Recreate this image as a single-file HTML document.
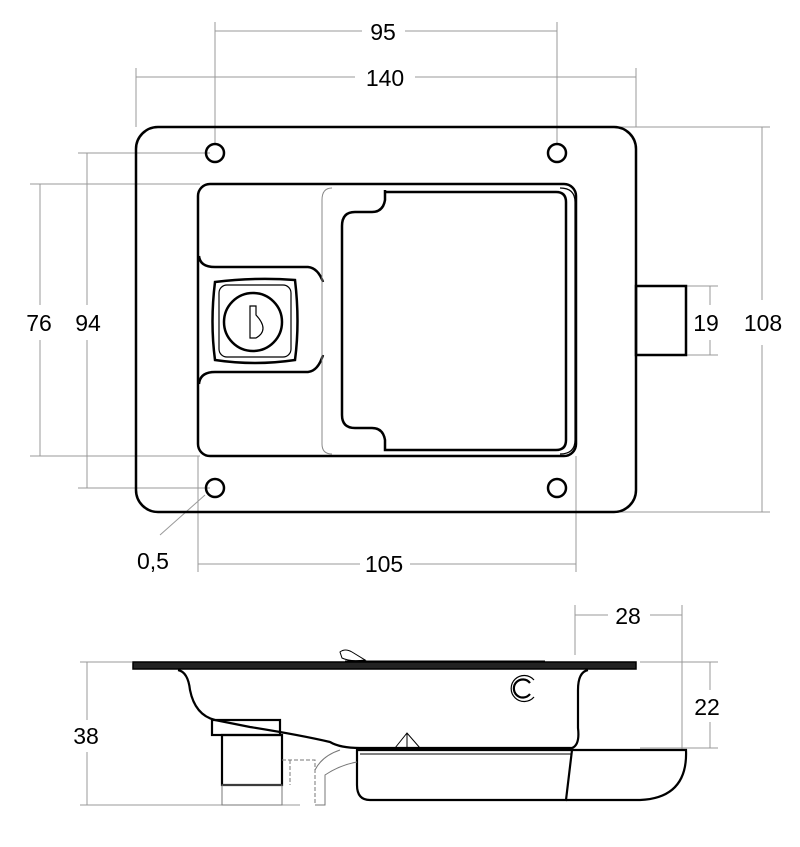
<!DOCTYPE html>
<html><head><style>html,body{margin:0;padding:0;background:#fff}svg{display:block}</style></head>
<body>
<svg width="800" height="847" viewBox="0 0 800 847" xmlns="http://www.w3.org/2000/svg" font-family="Liberation Sans, sans-serif" font-size="23">
<g stroke="#999" stroke-width="1" fill="none">
<line x1="215" y1="22" x2="215" y2="145"/><line x1="557" y1="22" x2="557" y2="145"/>
<line x1="215" y1="31" x2="362" y2="31"/><line x1="405" y1="31" x2="557" y2="31"/>
<line x1="136" y1="68" x2="136" y2="127"/><line x1="636" y1="68" x2="636" y2="127"/>
<line x1="136" y1="77" x2="355" y2="77"/><line x1="415" y1="77" x2="636" y2="77"/>
<line x1="620" y1="127" x2="770" y2="127"/><line x1="620" y1="512" x2="770" y2="512"/>
<line x1="762" y1="127" x2="762" y2="300"/><line x1="762" y1="345" x2="762" y2="512"/>
<line x1="686" y1="286" x2="718" y2="286"/><line x1="686" y1="355" x2="718" y2="355"/>
<line x1="710" y1="286" x2="710" y2="305"/><line x1="710" y1="340" x2="710" y2="355"/>
<line x1="30" y1="184" x2="200" y2="184"/><line x1="30" y1="456" x2="200" y2="456"/>
<line x1="40" y1="184" x2="40" y2="305"/><line x1="40" y1="340" x2="40" y2="456"/>
<line x1="78" y1="153" x2="210" y2="153"/><line x1="78" y1="488" x2="210" y2="488"/>
<line x1="87" y1="153" x2="87" y2="305"/><line x1="87" y1="340" x2="87" y2="488"/>
<line x1="198" y1="456" x2="198" y2="572"/><line x1="576" y1="456" x2="576" y2="572"/>
<line x1="198" y1="564" x2="360" y2="564"/><line x1="410" y1="564" x2="576" y2="564"/>
<line x1="160" y1="535" x2="205" y2="495"/>
<line x1="575" y1="605" x2="575" y2="655"/><line x1="682" y1="605" x2="682" y2="750"/>
<line x1="575" y1="615" x2="608" y2="615"/><line x1="650" y1="615" x2="682" y2="615"/>
<line x1="640" y1="662" x2="718" y2="662"/><line x1="640" y1="748" x2="718" y2="748"/>
<line x1="710" y1="662" x2="710" y2="690"/><line x1="710" y1="722" x2="710" y2="748"/>
<line x1="80" y1="662" x2="132" y2="662"/><line x1="80" y1="805" x2="300" y2="805"/>
<line x1="87" y1="662" x2="87" y2="720"/><line x1="87" y1="752" x2="87" y2="805"/>
</g>
<g fill="#000" text-anchor="middle">
<text x="383" y="40">95</text><text x="385" y="86">140</text>
<text x="39" y="331">76</text><text x="88" y="331">94</text>
<text x="706" y="331">19</text><text x="763" y="331">108</text>
<text x="153" y="569">0,5</text><text x="384" y="572">105</text>
<text x="628" y="624">28</text><text x="707" y="715">22</text><text x="86" y="744">38</text>
</g>
<g fill="none" stroke="#000" stroke-width="2.5">
<rect x="136" y="127" width="500" height="385" rx="22"/>
<rect x="198" y="184" width="378" height="272" rx="12"/>
<circle cx="215" cy="153" r="9"/><circle cx="557" cy="153" r="9"/>
<circle cx="215" cy="488" r="9"/><circle cx="557" cy="488" r="9"/>
<rect x="636" y="286" width="50" height="69"/>
<path d="M199 256 Q200 267 215 267 L308 267 Q318 268 323 282"/>
<path d="M199 384 Q200 372 215 372 L308 372 Q318 371 323 355"/>
<path d="M215 282 Q255 277 295 280 Q300 322 295 360 Q255 366 215 360 Q210 322 215 282Z"/>
<circle cx="253" cy="322" r="29"/>
<path d="M385 190 L385 200 Q383 212 372 212 L355 212 Q342 212 342 226 L342 415 Q342 428 355 428 L372 428 Q383 428 385 440 L385 450 L556 450 Q566 450 566 440 L566 202 Q566 192 556 192 L385 192"/>
</g>
<g fill="none" stroke="#000" stroke-width="1.2">
<rect x="219" y="285" width="72" height="72" rx="8"/>
<path d="M250 306 L250 338 L256 338 Q270 330 256 315 L256 306Z"/>
<path d="M560 188 Q575 188 575 202 L575 440 Q575 454 560 454"/>
</g>
<path d="M332 188 Q322 188 322 200 L322 444 Q322 454 332 454" fill="none" stroke="#888" stroke-width="1"/>
<rect x="133" y="662" width="503" height="7" fill="#222" stroke="#000" stroke-width="1.5"/>
<line x1="345" y1="661" x2="545" y2="661" stroke="#000" stroke-width="1"/>
<path d="M340 652 Q345 648 352 652 L365 660 Q350 662 342 658 Z" fill="none" stroke="#000" stroke-width="1"/>
<g fill="none" stroke="#000" stroke-width="2.2">
<path d="M178 670 Q188 672 190 690 Q195 715 215 720 L250 727 Q300 735 330 742 Q340 748 360 748 L572 748 Q580 745 578 728 L578 690 Q578 672 588 670"/>
<rect x="212" y="720" width="68" height="15"/>
<rect x="222" y="735" width="60" height="50"/>
<path d="M357 750 L572 750 L566 800 L370 800 Q357 800 357 785 Z"/>
<path d="M572 750 L686 750 Q688 798 640 800 L566 800"/>
<path d="M530 683 A9 9 0 1 0 530 694"/>
</g>
<g fill="none" stroke="#000" stroke-width="1">
<path d="M395 748 L407 733 L420 748 M407 733 L407 748"/>
<line x1="360" y1="754" x2="572" y2="754"/>
<rect x="222" y="785" width="60" height="20" stroke="#777"/>
<path d="M282 760 L315 760 L315 805 M290 760 L290 785" stroke="#777" stroke-dasharray="4,2"/>
<path d="M315 805 L325 805 L325 775 Q340 765 357 762 M315 770 Q322 756 340 750" stroke="#777"/>
<path d="M534 680 A13 13 0 1 0 534 697" stroke-width="1.2"/>
</g>
</svg>
</body></html>
